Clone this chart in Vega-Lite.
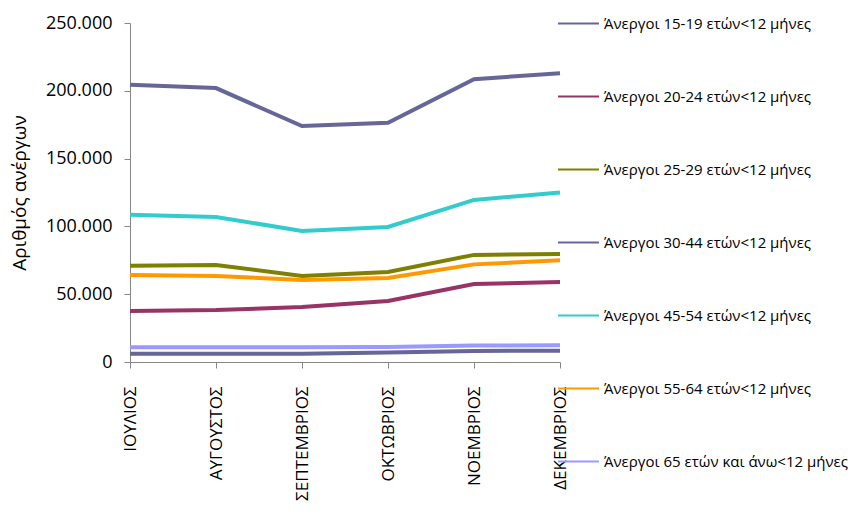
{
  "$schema": "https://vega.github.io/schema/vega-lite/v6.json",
  "width": 430,
  "height": 339,
  "autosize": {"type": "none"},
  "padding": {"left": 130, "top": 23, "right": 296, "bottom": 150},
  "background": "white",
  "config": {
    "locale": {"number": {"decimal": ",", "thousands": ".", "grouping": [3], "currency": ["", "€"]}},
    "view": {"stroke": null},
    "font": "Open Sans"
  },
  "data": {
    "values": [
      {"month": "ΙΟΥΛΙΟΣ", "group": "Άνεργοι 15-19 ετών<12 μήνες", "value": 6100},
      {"month": "ΑΥΓΟΥΣΤΟΣ", "group": "Άνεργοι 15-19 ετών<12 μήνες", "value": 6100},
      {"month": "ΣΕΠΤΕΜΒΡΙΟΣ", "group": "Άνεργοι 15-19 ετών<12 μήνες", "value": 6100},
      {"month": "ΟΚΤΩΒΡΙΟΣ", "group": "Άνεργοι 15-19 ετών<12 μήνες", "value": 7000},
      {"month": "ΝΟΕΜΒΡΙΟΣ", "group": "Άνεργοι 15-19 ετών<12 μήνες", "value": 8200},
      {"month": "ΔΕΚΕΜΒΡΙΟΣ", "group": "Άνεργοι 15-19 ετών<12 μήνες", "value": 8300},
      {"month": "ΙΟΥΛΙΟΣ", "group": "Άνεργοι 20-24 ετών<12 μήνες", "value": 37600},
      {"month": "ΑΥΓΟΥΣΤΟΣ", "group": "Άνεργοι 20-24 ετών<12 μήνες", "value": 38300},
      {"month": "ΣΕΠΤΕΜΒΡΙΟΣ", "group": "Άνεργοι 20-24 ετών<12 μήνες", "value": 40500},
      {"month": "ΟΚΤΩΒΡΙΟΣ", "group": "Άνεργοι 20-24 ετών<12 μήνες", "value": 45000},
      {"month": "ΝΟΕΜΒΡΙΟΣ", "group": "Άνεργοι 20-24 ετών<12 μήνες", "value": 57500},
      {"month": "ΔΕΚΕΜΒΡΙΟΣ", "group": "Άνεργοι 20-24 ετών<12 μήνες", "value": 59000},
      {"month": "ΙΟΥΛΙΟΣ", "group": "Άνεργοι 25-29 ετών<12 μήνες", "value": 71000},
      {"month": "ΑΥΓΟΥΣΤΟΣ", "group": "Άνεργοι 25-29 ετών<12 μήνες", "value": 71500},
      {"month": "ΣΕΠΤΕΜΒΡΙΟΣ", "group": "Άνεργοι 25-29 ετών<12 μήνες", "value": 63500},
      {"month": "ΟΚΤΩΒΡΙΟΣ", "group": "Άνεργοι 25-29 ετών<12 μήνες", "value": 66400},
      {"month": "ΝΟΕΜΒΡΙΟΣ", "group": "Άνεργοι 25-29 ετών<12 μήνες", "value": 79000},
      {"month": "ΔΕΚΕΜΒΡΙΟΣ", "group": "Άνεργοι 25-29 ετών<12 μήνες", "value": 79600},
      {"month": "ΙΟΥΛΙΟΣ", "group": "Άνεργοι 30-44 ετών<12 μήνες", "value": 204500},
      {"month": "ΑΥΓΟΥΣΤΟΣ", "group": "Άνεργοι 30-44 ετών<12 μήνες", "value": 202000},
      {"month": "ΣΕΠΤΕΜΒΡΙΟΣ", "group": "Άνεργοι 30-44 ετών<12 μήνες", "value": 174000},
      {"month": "ΟΚΤΩΒΡΙΟΣ", "group": "Άνεργοι 30-44 ετών<12 μήνες", "value": 176500},
      {"month": "ΝΟΕΜΒΡΙΟΣ", "group": "Άνεργοι 30-44 ετών<12 μήνες", "value": 208500},
      {"month": "ΔΕΚΕΜΒΡΙΟΣ", "group": "Άνεργοι 30-44 ετών<12 μήνες", "value": 213000},
      {"month": "ΙΟΥΛΙΟΣ", "group": "Άνεργοι 45-54 ετών<12 μήνες", "value": 108500},
      {"month": "ΑΥΓΟΥΣΤΟΣ", "group": "Άνεργοι 45-54 ετών<12 μήνες", "value": 107000},
      {"month": "ΣΕΠΤΕΜΒΡΙΟΣ", "group": "Άνεργοι 45-54 ετών<12 μήνες", "value": 96600},
      {"month": "ΟΚΤΩΒΡΙΟΣ", "group": "Άνεργοι 45-54 ετών<12 μήνες", "value": 99600},
      {"month": "ΝΟΕΜΒΡΙΟΣ", "group": "Άνεργοι 45-54 ετών<12 μήνες", "value": 119500},
      {"month": "ΔΕΚΕΜΒΡΙΟΣ", "group": "Άνεργοι 45-54 ετών<12 μήνες", "value": 125000},
      {"month": "ΙΟΥΛΙΟΣ", "group": "Άνεργοι  55-64 ετών<12 μήνες", "value": 64200},
      {"month": "ΑΥΓΟΥΣΤΟΣ", "group": "Άνεργοι  55-64 ετών<12 μήνες", "value": 63400},
      {"month": "ΣΕΠΤΕΜΒΡΙΟΣ", "group": "Άνεργοι  55-64 ετών<12 μήνες", "value": 60500},
      {"month": "ΟΚΤΩΒΡΙΟΣ", "group": "Άνεργοι  55-64 ετών<12 μήνες", "value": 62000},
      {"month": "ΝΟΕΜΒΡΙΟΣ", "group": "Άνεργοι  55-64 ετών<12 μήνες", "value": 72000},
      {"month": "ΔΕΚΕΜΒΡΙΟΣ", "group": "Άνεργοι  55-64 ετών<12 μήνες", "value": 75000},
      {"month": "ΙΟΥΛΙΟΣ", "group": "Άνεργοι 65 ετών και άνω<12 μήνες", "value": 10800},
      {"month": "ΑΥΓΟΥΣΤΟΣ", "group": "Άνεργοι 65 ετών και άνω<12 μήνες", "value": 10800},
      {"month": "ΣΕΠΤΕΜΒΡΙΟΣ", "group": "Άνεργοι 65 ετών και άνω<12 μήνες", "value": 10800},
      {"month": "ΟΚΤΩΒΡΙΟΣ", "group": "Άνεργοι 65 ετών και άνω<12 μήνες", "value": 11000},
      {"month": "ΝΟΕΜΒΡΙΟΣ", "group": "Άνεργοι 65 ετών και άνω<12 μήνες", "value": 12200},
      {"month": "ΔΕΚΕΜΒΡΙΟΣ", "group": "Άνεργοι 65 ετών και άνω<12 μήνες", "value": 12300}
    ]
  },
  "mark": {"type": "line", "strokeWidth": 4},
  "encoding": {
    "x": {
      "field": "month",
      "type": "nominal",
      "sort": null,
      "scale": {"type": "point", "padding": 0},
      "axis": {
        "title": null,
        "labelAngle": -90,
        "labelFontSize": 17,
        "labelColor": "#000000",
        "labelPadding": 18,
        "tickSize": 6,
        "tickColor": "#868686",
        "domainColor": "#868686",
        "labelOverlap": false
      }
    },
    "y": {
      "field": "value",
      "type": "quantitative",
      "scale": {"domain": [0, 250000], "nice": false},
      "axis": {
        "title": "Αριθμός ανέργων",
        "titleFontSize": 19,
        "titleFontWeight": "normal",
        "titleColor": "#000000",
        "titlePadding": 16,
        "format": ",d",
        "values": [0, 50000, 100000, 150000, 200000, 250000],
        "labelFontSize": 18,
        "labelColor": "#000000",
        "labelPadding": 12,
        "tickSize": 6,
        "tickColor": "#868686",
        "domainColor": "#868686",
        "grid": false
      }
    },
    "color": {
      "field": "group",
      "type": "nominal",
      "sort": null,
      "scale": {
        "domain": [
          "Άνεργοι 15-19 ετών<12 μήνες",
          "Άνεργοι 20-24 ετών<12 μήνες",
          "Άνεργοι 25-29 ετών<12 μήνες",
          "Άνεργοι 30-44 ετών<12 μήνες",
          "Άνεργοι 45-54 ετών<12 μήνες",
          "Άνεργοι  55-64 ετών<12 μήνες",
          "Άνεργοι 65 ετών και άνω<12 μήνες"
        ],
        "range": ["#666699", "#993366", "#808000", "#666699", "#33cccc", "#ff9900", "#9999ff"]
      },
      "legend": {
        "title": null,
        "orient": "none",
        "legendX": 427,
        "legendY": -21,
        "symbolType": "stroke",
        "symbolSize": 1681,
        "symbolStrokeWidth": 2,
        "labelFontSize": 15,
        "labelColor": "#000000",
        "labelOffset": 4,
        "labelLimit": 300,
        "rowPadding": 43
      }
    }
  }
}
